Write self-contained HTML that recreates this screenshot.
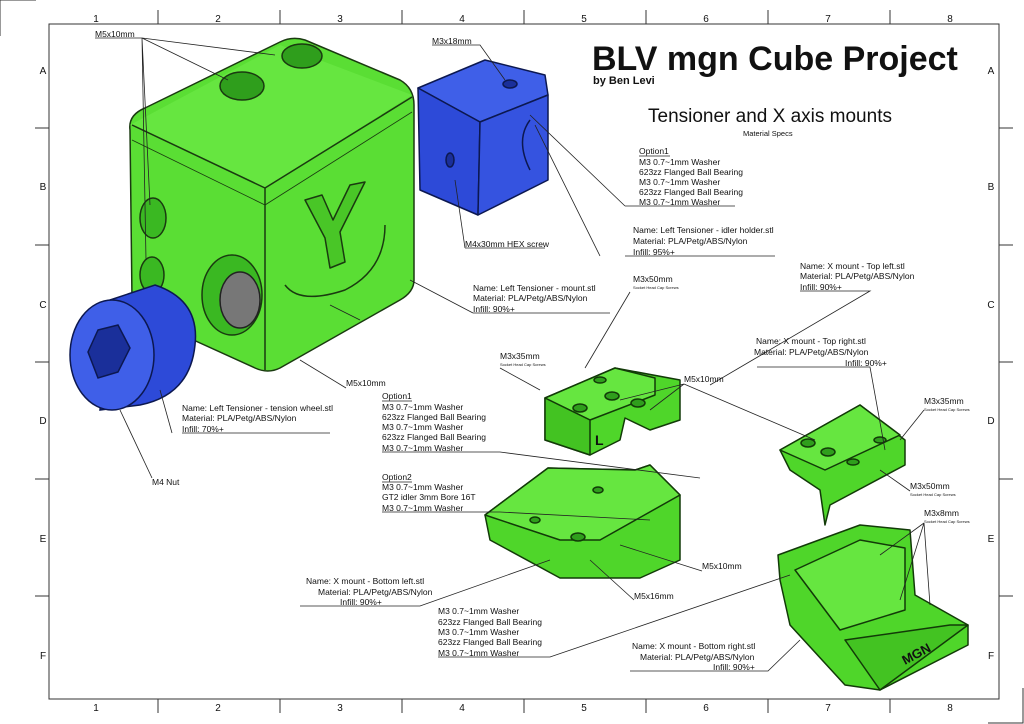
<!DOCTYPE html>
<html><head><meta charset="utf-8"><style>
html,body{margin:0;padding:0;background:#fff}
svg{display:block}
text{font-family:"Liberation Sans",Arial,sans-serif;fill:#111}
.s{font-size:8.5px}
.t{font-size:4px}
.g{font-size:10px}
</style></head><body>
<svg width="1024" height="724" viewBox="0 0 1024 724" xmlns="http://www.w3.org/2000/svg">
<rect width="1024" height="724" fill="#fff"/>
<path d="M0 36V0H36" fill="none" stroke="#333" stroke-width="1"/>
<path d="M988 723H1023V688" fill="none" stroke="#333" stroke-width="1"/>
<rect x="49" y="24" width="950" height="675" fill="none" stroke="#333" stroke-width="1"/>
<g stroke="#333" stroke-width="1">
<line x1="158" y1="10" x2="158" y2="24"/><line x1="280" y1="10" x2="280" y2="24"/><line x1="402" y1="10" x2="402" y2="24"/><line x1="524" y1="10" x2="524" y2="24"/><line x1="646" y1="10" x2="646" y2="24"/><line x1="768" y1="10" x2="768" y2="24"/><line x1="890" y1="10" x2="890" y2="24"/>
<line x1="158" y1="699" x2="158" y2="713"/><line x1="280" y1="699" x2="280" y2="713"/><line x1="402" y1="699" x2="402" y2="713"/><line x1="524" y1="699" x2="524" y2="713"/><line x1="646" y1="699" x2="646" y2="713"/><line x1="768" y1="699" x2="768" y2="713"/><line x1="890" y1="699" x2="890" y2="713"/>
<line x1="35" y1="128" x2="49" y2="128"/><line x1="35" y1="245" x2="49" y2="245"/><line x1="35" y1="362" x2="49" y2="362"/><line x1="35" y1="479" x2="49" y2="479"/><line x1="35" y1="596" x2="49" y2="596"/>
<line x1="999" y1="128" x2="1013" y2="128"/><line x1="999" y1="245" x2="1013" y2="245"/><line x1="999" y1="362" x2="1013" y2="362"/><line x1="999" y1="479" x2="1013" y2="479"/><line x1="999" y1="596" x2="1013" y2="596"/>
</g>
<g class="g" text-anchor="middle">
<text x="96" y="22">1</text><text x="218" y="22">2</text><text x="340" y="22">3</text><text x="462" y="22">4</text><text x="584" y="22">5</text><text x="706" y="22">6</text><text x="828" y="22">7</text><text x="950" y="22">8</text>
<text x="96" y="711">1</text><text x="218" y="711">2</text><text x="340" y="711">3</text><text x="462" y="711">4</text><text x="584" y="711">5</text><text x="706" y="711">6</text><text x="828" y="711">7</text><text x="950" y="711">8</text>
<text x="43" y="74">A</text><text x="43" y="190">B</text><text x="43" y="308">C</text><text x="43" y="424">D</text><text x="43" y="542">E</text><text x="43" y="659">F</text>
<text x="991" y="74">A</text><text x="991" y="190">B</text><text x="991" y="308">C</text><text x="991" y="424">D</text><text x="991" y="542">E</text><text x="991" y="659">F</text>
</g>

<!-- cube -->
<g stroke="#1a3a10" stroke-width="1.5" stroke-linejoin="round">
<path d="M130 130 Q128 115 145 108 L280 42 Q292 36 305 40 L400 80 Q414 88 414 105 L414 280 Q414 292 400 300 L280 368 Q268 374 255 368 L145 318 Q132 312 132 300 Z" fill="#5ade34"/>
<path d="M130 125 L280 45 L412 95 L265 188 Z" fill="#66e640" stroke="none"/>
<path d="M132 125 L265 188 L265 370" fill="none"/>
<path d="M265 188 L412 97" fill="none"/>
<path d="M132 140 L265 205 L412 112" fill="none" stroke-width="0.8"/>
<ellipse cx="242" cy="86" rx="22" ry="14" fill="#2f9e1c"/>
<ellipse cx="302" cy="56" rx="20" ry="12" fill="#2f9e1c"/>
<ellipse cx="153" cy="218" rx="13" ry="20" fill="#3ab822"/>
<ellipse cx="152" cy="275" rx="12" ry="18" fill="#3ab822"/>
<ellipse cx="232" cy="295" rx="30" ry="40" fill="#3ab822"/>
<ellipse cx="240" cy="300" rx="20" ry="28" fill="#777" stroke="#222"/>
<path d="M305 200 L322 195 L333 220 L350 185 L365 182 L340 232 L345 262 L330 268 L325 238 Z" fill="#49c627"/>
<path d="M285 285 Q300 305 345 290 Q385 270 385 225" fill="none"/>
</g>
<!-- blue block -->
<g stroke="#0c1850" stroke-width="1.5" stroke-linejoin="round">
<polygon points="418,88 485,60 545,75 548,95 480,122" fill="#3f5fe8"/>
<polygon points="418,88 480,122 478,215 420,190" fill="#2d4ad8"/>
<polygon points="480,122 548,95 548,180 478,215" fill="#3553e0"/>
<ellipse cx="510" cy="84" rx="7" ry="4" fill="#1a2f9a"/>
<path d="M530 120 Q515 140 530 170" fill="none"/>
<ellipse cx="450" cy="160" rx="4" ry="7" fill="#1a2f9a"/>
</g>
<!-- blue wheel -->
<g stroke="#0c1850" stroke-width="1.5">
<path d="M110 300 L155 285 Q200 300 195 345 Q190 395 140 405 L100 410 Z" fill="#2d4ad8"/>
<ellipse cx="112" cy="355" rx="42" ry="55" fill="#3f5fe8"/>
<polygon points="98,330 118,325 130,348 118,372 98,378 88,352" fill="#1a2f9a"/>
</g>
<!-- top-left green part -->
<g stroke="#123a08" stroke-width="1.5" stroke-linejoin="round">
<polygon points="545,398 615,368 680,380 680,420 650,430 625,418 620,440 590,455 545,440" fill="#4fd62a"/>
<polygon points="545,398 615,368 655,378 655,395 590,420" fill="#66e640"/>
<polygon points="545,398 590,420 590,455 545,440" fill="#43c322"/>
<ellipse cx="580" cy="408" rx="7" ry="4" fill="#2f9e1c"/><ellipse cx="612" cy="396" rx="7" ry="4" fill="#2f9e1c"/><ellipse cx="638" cy="403" rx="7" ry="4" fill="#2f9e1c"/><ellipse cx="600" cy="380" rx="6" ry="3" fill="#2f9e1c"/>
<text x="595" y="445" font-size="14" font-weight="bold" fill="#123a08" stroke="none">L</text>
</g>
<!-- top-right green part -->
<g stroke="#123a08" stroke-width="1.5" stroke-linejoin="round">
<polygon points="780,450 860,405 905,440 905,465 830,505 825,525 820,490 790,470" fill="#4fd62a"/>
<polygon points="780,450 860,405 900,435 825,470" fill="#66e640"/>
<ellipse cx="808" cy="443" rx="7" ry="4" fill="#2f9e1c"/><ellipse cx="828" cy="452" rx="7" ry="4" fill="#2f9e1c"/><ellipse cx="853" cy="462" rx="6" ry="3" fill="#2f9e1c"/><ellipse cx="880" cy="440" rx="6" ry="3" fill="#2f9e1c"/>
</g>
<!-- bottom-left green part -->
<g stroke="#123a08" stroke-width="1.5" stroke-linejoin="round">
<polygon points="485,515 548,468 635,470 650,465 680,495 680,560 640,578 560,578 490,540" fill="#4fd62a"/>
<polygon points="485,515 548,468 635,470 650,465 680,495 600,540 560,540" fill="#66e640"/>
<ellipse cx="578" cy="537" rx="7" ry="4" fill="#2f9e1c"/><ellipse cx="535" cy="520" rx="5" ry="3" fill="#2f9e1c"/><ellipse cx="598" cy="490" rx="5" ry="3" fill="#2f9e1c"/>
</g>
<!-- bottom-right green part -->
<g stroke="#123a08" stroke-width="1.5" stroke-linejoin="round">
<polygon points="778,555 860,525 910,530 915,595 968,625 968,645 880,690 845,685 790,625 780,580" fill="#4fd62a"/>
<polygon points="795,570 860,540 905,548 905,610 840,630" fill="#66e640"/>
<polygon points="845,640 950,625 968,625 880,690" fill="#43c322"/>
<text x="905" y="665" font-size="13" font-weight="bold" fill="#123a08" stroke="none" transform="rotate(-28 905 665)">MGN</text>
</g>

<g stroke="#222" stroke-width="0.8" fill="none">
<path d="M95 38H142L275 55M142 38L228 80M142 38L150 205M142 38L146 260"/>
<path d="M432 45H480L505 80"/>
<path d="M625 206H735M530 115L625 206"/>
<path d="M625 256H775M535 125L600 256"/>
<path d="M465 248H545M455 180L465 248"/>
<path d="M473 313H610M410 280L473 313"/>
<path d="M630 292L585 368"/><path d="M800 291H870L710 385"/>
<path d="M500 368L540 390"/><path d="M757 367H870L885 450"/>
<path d="M684 384L620 400M684 384L650 410M684 384L815 440"/>
<path d="M346 388L300 360"/>
<path d="M182 433H330M172 433L160 390"/>
<path d="M382 452H500L700 478"/>
<path d="M924 410L900 440"/>
<path d="M152 478L120 410"/>
<path d="M382 512H500L650 520"/>
<path d="M910 491L880 470"/>
<path d="M924 523L900 600M924 523L930 605M924 523L880 555"/>
<path d="M702 571L620 545"/>
<path d="M300 606H420L550 560"/>
<path d="M634 600L590 560"/>
<path d="M438 657H550L790 575"/>
<path d="M630 671H768L800 640"/>
<path d="M330 305L360 320"/>
</g>
<g stroke="#222" stroke-width="0.8">
<line x1="639" y1="156" x2="670" y2="156"/><line x1="382" y1="401" x2="412" y2="401"/><line x1="382" y1="482" x2="412" y2="482"/>
</g>

<text x="592" y="70" font-size="34" font-weight="bold">BLV mgn Cube Project</text>
<text x="593" y="84" font-size="11" font-weight="bold">by Ben Levi</text>
<text x="648" y="122" font-size="19">Tensioner and X axis mounts</text>
<text x="743" y="136" font-size="7.5">Material Specs</text>
<g class="s">
<text x="95" y="37">M5x10mm</text>
<text x="432" y="44">M3x18mm</text>
<text x="639" y="154">Option1</text><text x="639" y="165">M3 0.7~1mm Washer</text><text x="639" y="175">623zz Flanged Ball Bearing</text><text x="639" y="185">M3 0.7~1mm Washer</text><text x="639" y="195">623zz Flanged Ball Bearing</text><text x="639" y="205">M3 0.7~1mm Washer</text>
<text x="633" y="233">Name: Left Tensioner - idler holder.stl</text><text x="633" y="244">Material: PLA/Petg/ABS/Nylon</text><text x="633" y="255">Infill: 95%+</text>
<text x="465" y="247">M4x30mm HEX screw</text>
<text x="633" y="282">M3x50mm</text>
<text x="473" y="291">Name: Left Tensioner - mount.stl</text><text x="473" y="301">Material: PLA/Petg/ABS/Nylon</text><text x="473" y="312">Infill: 90%+</text>
<text x="800" y="269">Name: X mount - Top left.stl</text><text x="800" y="279">Material: PLA/Petg/ABS/Nylon</text><text x="800" y="290">Infill: 90%+</text>
<text x="500" y="359">M3x35mm</text>
<text x="756" y="344">Name: X mount - Top right.stl</text><text x="754" y="355">Material: PLA/Petg/ABS/Nylon</text><text x="845" y="366">Infill: 90%+</text>
<text x="684" y="382">M5x10mm</text>
<text x="346" y="386">M5x10mm</text>
<text x="382" y="399">Option1</text><text x="382" y="410">M3 0.7~1mm Washer</text><text x="382" y="420">623zz Flanged Ball Bearing</text><text x="382" y="430">M3 0.7~1mm Washer</text><text x="382" y="440">623zz Flanged Ball Bearing</text><text x="382" y="451">M3 0.7~1mm Washer</text>
<text x="182" y="411">Name: Left Tensioner - tension wheel.stl</text><text x="182" y="421">Material: PLA/Petg/ABS/Nylon</text><text x="182" y="432">Infill: 70%+</text>
<text x="924" y="404">M3x35mm</text>
<text x="152" y="485">M4 Nut</text>
<text x="382" y="480">Option2</text><text x="382" y="490">M3 0.7~1mm Washer</text><text x="382" y="500">GT2 idler 3mm Bore 16T</text><text x="382" y="511">M3 0.7~1mm Washer</text>
<text x="910" y="489">M3x50mm</text>
<text x="924" y="516">M3x8mm</text>
<text x="702" y="569">M5x10mm</text>
<text x="306" y="584">Name: X mount - Bottom left.stl</text><text x="318" y="595">Material: PLA/Petg/ABS/Nylon</text><text x="340" y="605">Infill: 90%+</text>
<text x="634" y="599">M5x16mm</text>
<text x="438" y="614">M3 0.7~1mm Washer</text><text x="438" y="625">623zz Flanged Ball Bearing</text><text x="438" y="635">M3 0.7~1mm Washer</text><text x="438" y="645">623zz Flanged Ball Bearing</text><text x="438" y="656">M3 0.7~1mm Washer</text>
<text x="632" y="649">Name: X mount - Bottom right.stl</text><text x="640" y="660">Material: PLA/Petg/ABS/Nylon</text><text x="713" y="670">Infill: 90%+</text>
</g>
<g class="t">
<text x="633" y="289">Socket Head Cap Screws</text>
<text x="500" y="366">Socket Head Cap Screws</text>
<text x="924" y="411">Socket Head Cap Screws</text>
<text x="910" y="496">Socket Head Cap Screws</text>
<text x="924" y="523">Socket Head Cap Screws</text>
</g>
</svg>
</body></html>
